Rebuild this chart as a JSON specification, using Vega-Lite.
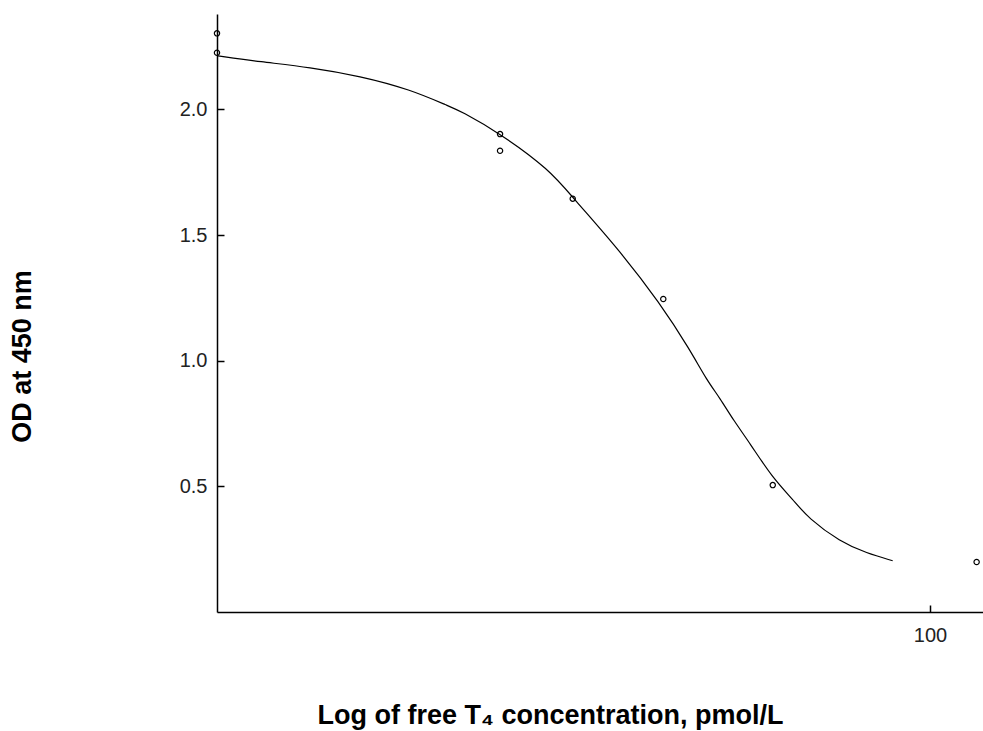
{
  "$schema": "https://vega.github.io/schema/vega-lite/v6.json",
  "width": 766,
  "height": 598,
  "autosize": {"type": "none"},
  "padding": {"left": 217, "top": 14, "right": 0, "bottom": 119},
  "background": "white",
  "config": {
    "view": {"stroke": null},
    "axis": {
      "grid": false,
      "domainColor": "black",
      "domainWidth": 1.5,
      "tickColor": "black",
      "tickWidth": 1.5,
      "labelFont": "Liberation Sans",
      "labelFontSize": 20,
      "labelColor": "#222",
      "titleFont": "Liberation Sans",
      "titleFontWeight": "bold",
      "titleColor": "black"
    }
  },
  "datasets": {
    "curve": [
      {"conc": 2.011, "od": 2.213},
      {"conc": 2.532, "od": 2.190},
      {"conc": 3.332, "od": 2.168},
      {"conc": 4.384, "od": 2.133},
      {"conc": 5.766, "od": 2.080},
      {"conc": 7.181, "od": 2.011},
      {"conc": 7.586, "od": 1.995},
      {"conc": 9.448, "od": 1.905},
      {"conc": 12.43, "od": 1.759},
      {"conc": 14.08, "od": 1.649},
      {"conc": 18.08, "od": 1.445},
      {"conc": 22.73, "od": 1.229},
      {"conc": 26.80, "od": 1.043},
      {"conc": 29.37, "od": 0.923},
      {"conc": 31.59, "od": 0.851},
      {"conc": 33.98, "od": 0.764},
      {"conc": 37.24, "od": 0.671},
      {"conc": 41.96, "od": 0.538},
      {"conc": 47.22, "od": 0.446},
      {"conc": 51.27, "od": 0.373},
      {"conc": 61.02, "od": 0.280},
      {"conc": 70.65, "od": 0.234},
      {"conc": 81.46, "od": 0.204}
    ],
    "standards": [
      {"conc": 2.0, "od": 2.303},
      {"conc": 2.0, "od": 2.226},
      {"conc": 9.45, "od": 1.902},
      {"conc": 9.45, "od": 1.836},
      {"conc": 14.08, "od": 1.645},
      {"conc": 23.14, "od": 1.246},
      {"conc": 42.19, "od": 0.505},
      {"conc": 129.1, "od": 0.199}
    ]
  },
  "encoding": {
    "x": {
      "field": "conc",
      "type": "quantitative",
      "scale": {"type": "log", "domain": [2, 133.7], "nice": false},
      "axis": {
        "values": [100],
        "format": "d",
        "tickSize": -7,
        "labelPadding": 20,
        "title": "Log of free T₄ concentration, pmol/L",
        "titleFontSize": 27,
        "titleX": 333,
        "titleY": 111,
        "titleAlign": "center",
        "titleBaseline": "alphabetic"
      }
    },
    "y": {
      "field": "od",
      "type": "quantitative",
      "scale": {"domain": [0, 2.38], "nice": false, "zero": false},
      "axis": {
        "values": [0.5, 1.0, 1.5, 2.0],
        "format": ".1f",
        "tickSize": -7,
        "labelPadding": 17,
        "title": "OD at 450 nm",
        "titleFontSize": 27,
        "titleAngle": -90,
        "titleX": -187,
        "titleY": 342,
        "titleAlign": "center",
        "titleBaseline": "alphabetic"
      }
    }
  },
  "layer": [
    {
      "data": {"name": "curve"},
      "mark": {"type": "line", "color": "black", "strokeWidth": 1.2, "interpolate": "basis"}
    },
    {
      "data": {"name": "standards"},
      "mark": {"type": "point", "shape": "circle", "filled": false, "color": "black", "strokeWidth": 1.2, "size": 28, "opacity": 1}
    }
  ]
}
